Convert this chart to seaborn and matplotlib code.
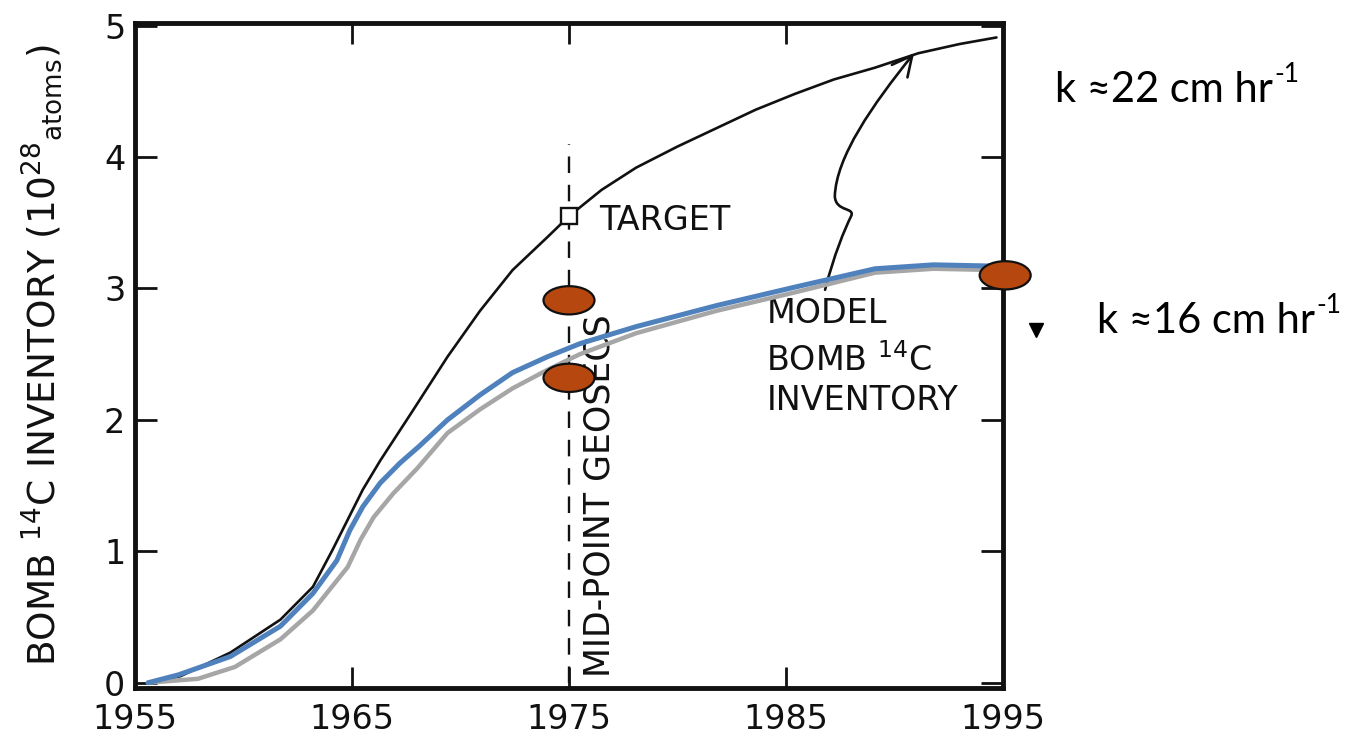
import numpy as np
import pandas as pd
import matplotlib
matplotlib.use("Agg")
import matplotlib.pyplot as plt
import seaborn as sns
from matplotlib.patches import Ellipse, FancyArrowPatch
from matplotlib.path import Path

# ---------------- data ----------------
target_years = [1955.6, 1957.1, 1959.4, 1961.7, 1963.2, 1964.1, 1964.8, 1965.5, 1966.3,
                1967.8, 1969.4, 1970.9, 1972.4, 1974.0, 1975.0, 1976.5, 1978.1, 1980.0,
                1981.8, 1983.6, 1985.4, 1987.2, 1989.1, 1991.1, 1993.0, 1994.7]
target_vals = [0.00, 0.05, 0.23, 0.48, 0.73, 1.01, 1.24, 1.47, 1.69,
               2.07, 2.48, 2.83, 3.14, 3.39, 3.55, 3.75, 3.92, 4.08,
               4.22, 4.36, 4.48, 4.59, 4.68, 4.79, 4.86, 4.91]

blue_years = [1955.6, 1957.0, 1959.4, 1961.7, 1963.2, 1964.3, 1964.9, 1965.5, 1966.3,
              1967.2, 1968.1, 1969.4, 1970.9, 1972.4, 1974.0, 1975.5, 1978.1, 1981.8,
              1985.4, 1989.1, 1991.8, 1994.7]
blue_vals = [0.00, 0.06, 0.20, 0.43, 0.68, 0.93, 1.16, 1.34, 1.52,
             1.67, 1.80, 2.00, 2.19, 2.36, 2.48, 2.58, 2.71, 2.87,
             3.01, 3.15, 3.18, 3.17]

gray_years = [1955.6, 1957.9, 1959.6, 1961.7, 1963.2, 1964.8, 1965.4, 1966.0, 1966.9,
              1968.0, 1969.4, 1970.9, 1972.4, 1974.0, 1975.5, 1978.1, 1981.8, 1985.4,
              1989.1, 1991.8, 1994.7]
gray_vals = [0.00, 0.03, 0.12, 0.33, 0.55, 0.88, 1.09, 1.26, 1.44,
             1.63, 1.90, 2.08, 2.24, 2.38, 2.50, 2.66, 2.83, 2.97,
             3.12, 3.15, 3.14]

obs_years = [1975.0, 1975.0, 1995.1]
obs_vals = [2.91, 2.32, 3.10]

target_point = (1975.0, 3.55)
midpoint_year = 1975.0
midpoint_top = 4.1

x_ticks = [1955, 1965, 1975, 1985, 1995]
y_ticks = [0, 1, 2, 3, 4, 5]

# annotation arrow (squiggle) from the label up to the upper curve
arrow_verts = [(1986.8, 2.99),
               (1987.2, 3.25), (1987.7, 3.45), (1988.0, 3.55),
               (1988.2, 3.62), (1987.3, 3.58), (1987.25, 3.70),
               (1987.3, 4.00), (1989.0, 4.40), (1990.9, 4.79)]

# ---------------- figure ----------------
sns.set_theme(style="ticks")
plt.rcParams["font.family"] = ["DejaVu Sans"]

W, H = 1359, 735
fig = plt.figure(figsize=(W / 100, H / 100), dpi=100)
ax = fig.add_axes([135 / W, 1 - 688 / H, 868 / W, 665 / H])

df_t = pd.DataFrame({"year": target_years, "val": target_vals})
df_b = pd.DataFrame({"year": blue_years, "val": blue_vals})
df_g = pd.DataFrame({"year": gray_years, "val": gray_vals})

sns.lineplot(data=df_t, x="year", y="val", ax=ax, color="#111111", lw=1.9, sort=False, zorder=3)
sns.lineplot(data=df_g, x="year", y="val", ax=ax, color="#a6a6a6", lw=3.2, sort=False, zorder=4)
sns.lineplot(data=df_b, x="year", y="val", ax=ax, color="#4f81bd", lw=3.6, sort=False, zorder=5)

# dashed mid-point line
ax.plot([midpoint_year, midpoint_year], [0, midpoint_top], color="#111111", lw=1.7,
        dashes=(7, 5), zorder=2)

# target square
ax.plot([target_point[0]], [target_point[1]], marker="s", ms=11, mfc="white",
        mec="#111111", mew=1.7, zorder=6, clip_on=False)

# observation ellipses
for ox, oy in zip(obs_years, obs_vals):
    ax.add_patch(Ellipse((ox, oy), width=2.35, height=0.215, facecolor="#b5470f",
                         edgecolor="#111111", lw=1.6, zorder=7, clip_on=False))

# squiggle arrow
codes = [Path.MOVETO] + [Path.CURVE4] * 9
arrow_path = Path(arrow_verts, codes)
ax.add_patch(FancyArrowPatch(path=arrow_path,
                             arrowstyle="->,head_length=0.9,head_width=0.45",
                             color="#111111", lw=1.9, mutation_scale=16, zorder=3))

# texts in plot
tcol = "#111111"
ax.text(1976.4, 3.52, "TARGET", fontsize=24, va="center", ha="left", color=tcol)
ax.text(1976.4, 0.04, "MID-POINT GEOSECS", fontsize=25, rotation=90, ha="center",
        va="bottom", color=tcol, zorder=2)
ax.text(1984.1, 2.81, "MODEL", fontsize=24, ha="left", va="center", color=tcol)
ax.text(1984.1, 2.45, r"BOMB $^{\mathregular{14}}$C", fontsize=24, ha="left", va="center",
        color=tcol)
ax.text(1984.1, 2.15, "INVENTORY", fontsize=24, ha="left", va="center", color=tcol)

# axes styling
ax.set_xlim(1955, 1995)
ax.set_ylim(-0.04, 5.02)
ax.set_xticks(x_ticks)
ax.set_yticks(y_ticks)
ax.set_xticklabels([str(v) for v in x_ticks])
ax.set_yticklabels([str(v) for v in y_ticks])
ax.tick_params(axis="x", direction="in", length=15, width=2, top=True, bottom=True,
               labelsize=24, pad=11, colors=tcol)
ax.tick_params(axis="y", direction="in", length=16, width=2, left=True, right=True,
               labelsize=24, pad=7, colors=tcol)
for s in ax.spines.values():
    s.set_linewidth(3.5)
    s.set_color(tcol)
ax.set_xlabel("")
ax.set_ylabel(r"BOMB $^{\mathregular{14}}$C INVENTORY (10$^{\mathregular{28}}$$_{\mathregular{atoms}}$)",
              fontsize=27, color=tcol)
ax.yaxis.set_label_coords(-(135 - 64) / 868, 0.5)
ax.set_facecolor("white")

# right-hand annotations
kfam = ["Lato", "DejaVu Sans"]
k_labels = ["k ≈22 cm hr", "k ≈16 cm hr"]
k_pos = [(1055, 102), (1097, 333)]
fig.canvas.draw()
renderer = fig.canvas.get_renderer()
for lab, (px, py) in zip(k_labels, k_pos):
    t = fig.text(px / W, 1 - py / H, lab, fontsize=30, family=kfam,
                 va="baseline", ha="left", color="black")
    bb = t.get_window_extent(renderer=renderer)
    fig.text((bb.x1 + 1) / W, 1 - (py - 20) / H, "-1", fontsize=19, family=kfam,
             va="baseline", ha="left", color="black")

# small stray wedge next to the lower label
wedge_x = [1036 / W]
wedge_y = [1 - 330 / H]
fig.lines.append(plt.Line2D(wedge_x, wedge_y, marker="v", ms=10, color="black",
                            transform=fig.transFigure))

fig.savefig("out.png", dpi=100, facecolor="white")
